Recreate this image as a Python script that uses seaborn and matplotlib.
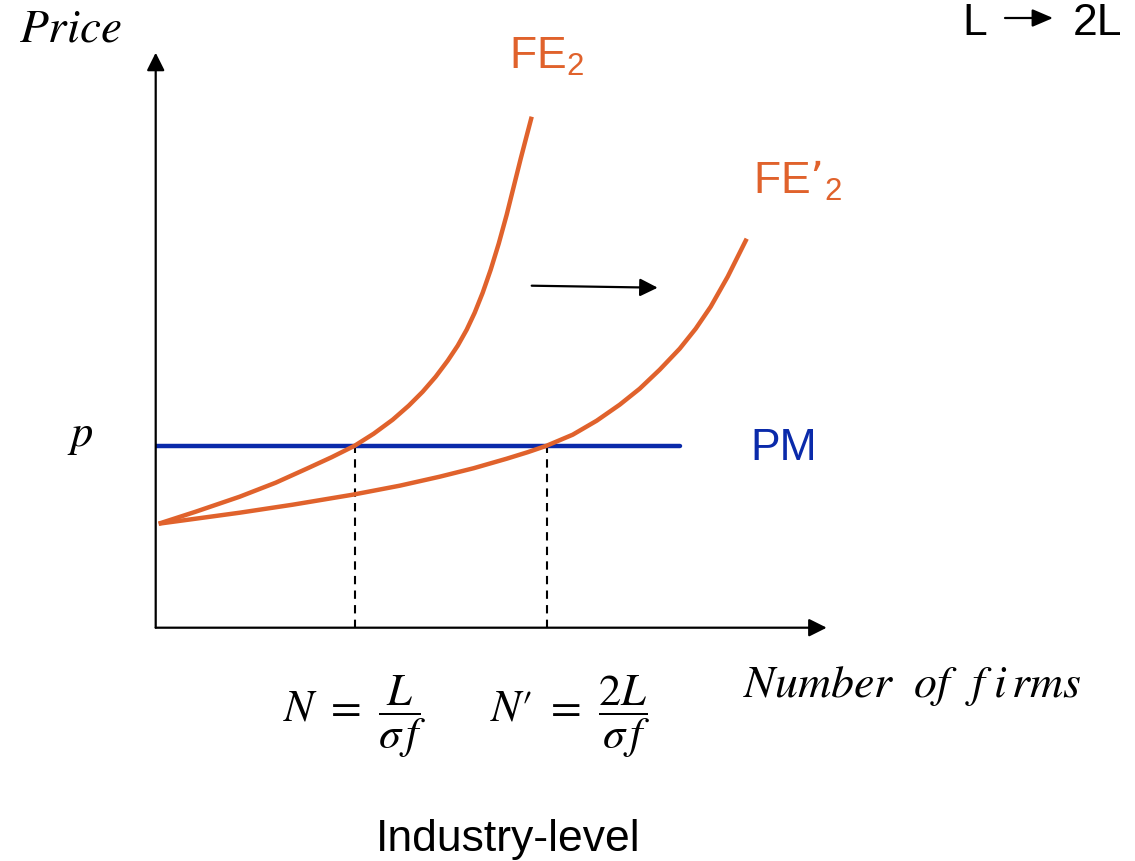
import matplotlib
matplotlib.use('Agg')
import matplotlib.pyplot as plt
import seaborn as sns

W, H = 1135, 861

# curves: x = number of firms, y = price (arbitrary units)
fe2_x = [0.3, 4.0, 8.4, 12.0, 15.1, 17.6, 19.9, 21.8, 23.7, 25.3, 26.7, 28.0,
         29.2, 30.2, 31.1, 31.9, 32.7, 33.5, 34.3, 35.1, 35.8, 36.5, 37.1, 37.6]
fe2_y = [10.4, 11.6, 13.1, 14.5, 15.9, 17.05, 18.2, 19.4, 20.8, 22.2, 23.6, 25.1,
         26.7, 28.2, 29.8, 31.5, 33.5, 35.8, 38.4, 41.3, 44.1, 46.9, 49.2, 51.1]
fe2p_x = [0.3, 4.0, 8.4, 13.7, 19.7, 24.4, 28.4, 31.8, 35.1, 37.2, 39.1, 41.7,
          44.1, 46.4, 48.4, 50.4, 52.4, 54.0, 55.5, 57.2, 59.1]
fe2p_y = [10.4, 10.9, 11.5, 12.3, 13.3, 14.2, 15.1, 15.95, 16.9, 17.55, 18.2, 19.3,
          20.7, 22.3, 23.9, 25.8, 27.9, 29.9, 32.1, 35.1, 38.9]
pm_x = [0.0, 52.4]
pm_y = [18.2, 18.2]
n_eq = 19.9
n2_eq = 39.1
shift_x = [37.6, 50.2]
shift_y = [34.2, 34.0]

orange = '#E0622C'
blue = '#0A2AAA'

sns.set_theme(style='white')
plt.rcParams['font.family'] = ['Liberation Sans', 'DejaVu Sans']
plt.rcParams['text.color'] = 'black'

fig = plt.figure(figsize=(W / 100, H / 100), dpi=100)
ax = fig.add_axes([155.7 / W, 1 - 627.7 / H, 671 / W, 575 / H])
ax.set_xlim(0, 67.1)
ax.set_ylim(0, 57.5)
ax.axis('off')


def fx(px):
    return px / W


def fy(py):
    return 1 - py / H


# axes with arrow heads
head = '-|>,head_length=0.6,head_width=0.3'
for tip in [(1, 0), (0, 1)]:
    ax.annotate('', xy=tip, xytext=(0, 0), xycoords='axes fraction',
                arrowprops=dict(arrowstyle=head, color='black', lw=1.6,
                                mutation_scale=18, shrinkA=0, shrinkB=0))

# dashed drop lines
for xv in [n_eq, n2_eq]:
    sns.lineplot(x=[xv, xv], y=[0, pm_y[0]], ax=ax, estimator=None, color='black',
                 lw=1.5, linestyle=(0, (4, 3)))

sns.lineplot(x=pm_x, y=pm_y, ax=ax, estimator=None, color=blue, lw=3.2)
for xs, ys in [(fe2_x, fe2_y), (fe2p_x, fe2p_y)]:
    sns.lineplot(x=xs, y=ys, ax=ax, estimator=None, color=orange, lw=3.2,
                 sort=False, solid_joinstyle='round', solid_capstyle='butt')

# shift arrow
ax.annotate('', xy=(shift_x[1], shift_y[1]), xytext=(shift_x[0], shift_y[0]),
            arrowprops=dict(arrowstyle=head, color='black', lw=1.6,
                            mutation_scale=18, shrinkA=0, shrinkB=0))

# labels
fig.text(fx(19), fy(42), '$Price$', fontsize=34, math_fontfamily='stix',
         va='baseline', ha='left')
fig.text(fx(67), fy(446), '$p$', fontsize=32, math_fontfamily='stix',
         va='baseline', ha='left')
fig.text(fx(509), fy(69), r'FE$_{\mathregular{2}}$', fontsize=32, color=orange,
         va='baseline', ha='left')
fig.text(fx(753), fy(194), r'FE’$_{\mathregular{2}}$', fontsize=32, color=orange,
         va='baseline', ha='left')
fig.text(fx(750), fy(460), 'PM', fontsize=32, color=blue, va='baseline', ha='left')

fig.text(fx(962), fy(35), 'L', fontsize=32, va='baseline', ha='left')
fig.text(fx(1073), fy(35), '2L', fontsize=32, va='baseline', ha='left')
ax.annotate('', xy=(fx(1053), fy(18)), xytext=(fx(1005), fy(18)),
            xycoords='figure fraction',
            arrowprops=dict(arrowstyle='-|>,head_length=0.7,head_width=0.3',
                            color='black', lw=1.6, mutation_scale=18,
                            shrinkA=0, shrinkB=0))

fig.text(fx(283), fy(717), r'$N\ =\ \dfrac{L}{\sigma\,f}$', fontsize=32,
         math_fontfamily='stix', va='center', ha='left')
fig.text(fx(490), fy(717), r"$N\prime\ =\ \dfrac{2L}{\sigma\,f}$", fontsize=32,
         math_fontfamily='stix', va='center', ha='left')
fig.text(fx(743), fy(697), r'$Number\ \ of\ \ f\;i\,rms$', fontsize=33,
         math_fontfamily='stix', va='baseline', ha='left')
fig.text(fx(508), fy(851), 'Industry-level', fontsize=32, va='baseline',
         ha='center')

fig.savefig('out.png', dpi=100)
